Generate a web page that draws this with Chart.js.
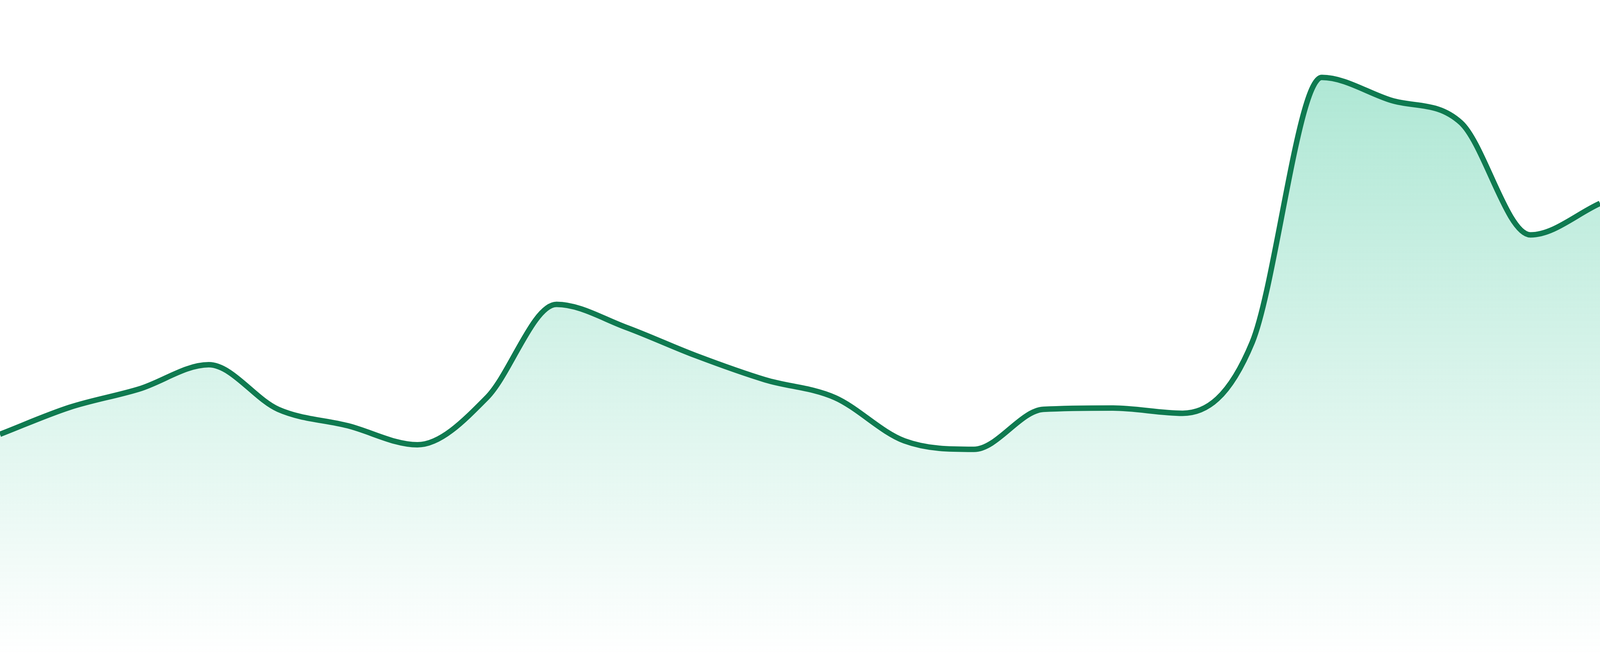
<!DOCTYPE html>
<html>
<head>
<meta charset="utf-8">
<script src="https://cdn.jsdelivr.net/npm/chart.js@4"></script>
<style>
  html, body { margin: 0; padding: 0; background: #fff; width: 100%; height: 100%; overflow: hidden; }
  #wrap { width: 100vw; height: 100vh; position: relative; }
</style>
</head>
<body>
<div id="wrap"><canvas id="areaChart"></canvas></div>
<script>
const labels = ["1", "2", "3", "4", "5", "6", "7", "8", "9", "10", "11", "12",
  "13", "14", "15", "16", "17", "18", "19", "20", "21", "22", "23", "24"];
const values = [33.8, 37.9, 40.7, 44.4, 37.6, 35.1, 32.2, 39.4, 53.6, 50.1, 45.8, 42.1,
  39.4, 32.8, 31.5, 37.6, 37.8, 37.0, 47.8, 88.2, 84.7, 81.3, 64.2, 69.0];
const yMin = 0;
const yMax = 100;

// vertical fade under the line
function fillGradient(context) {
  const chart = context.chart;
  const area = chart.chartArea;
  if (!area) return "rgba(16, 185, 129, 0.2)";
  const g = chart.ctx.createLinearGradient(0, area.top, 0, area.bottom);
  g.addColorStop(0, "rgba(16, 185, 129, 0.38)");
  g.addColorStop(1, "rgba(16, 185, 129, 0.0)");
  return g;
}

const canvas = document.getElementById("areaChart");

const chart = new Chart(canvas, {
  type: "line",
  data: {
    labels: labels,
    datasets: [
      {
        data: values,
        borderColor: "#0f7a50",
        borderWidth: 14,
        borderJoinStyle: "round",
        backgroundColor: fillGradient,
        fill: "start",
        cubicInterpolationMode: "monotone",
        pointRadius: 0,
        pointHoverRadius: 0,
      },
    ],
  },
  options: {
    responsive: true,
    maintainAspectRatio: false,
    animation: false,
    layout: { padding: 0 },
    plugins: {
      legend: { display: false },
      tooltip: { enabled: false },
    },
    scales: {
      x: { display: false },
      y: { display: false, min: yMin, max: yMax },
    },
  },
});
</script>
</body>
</html>
